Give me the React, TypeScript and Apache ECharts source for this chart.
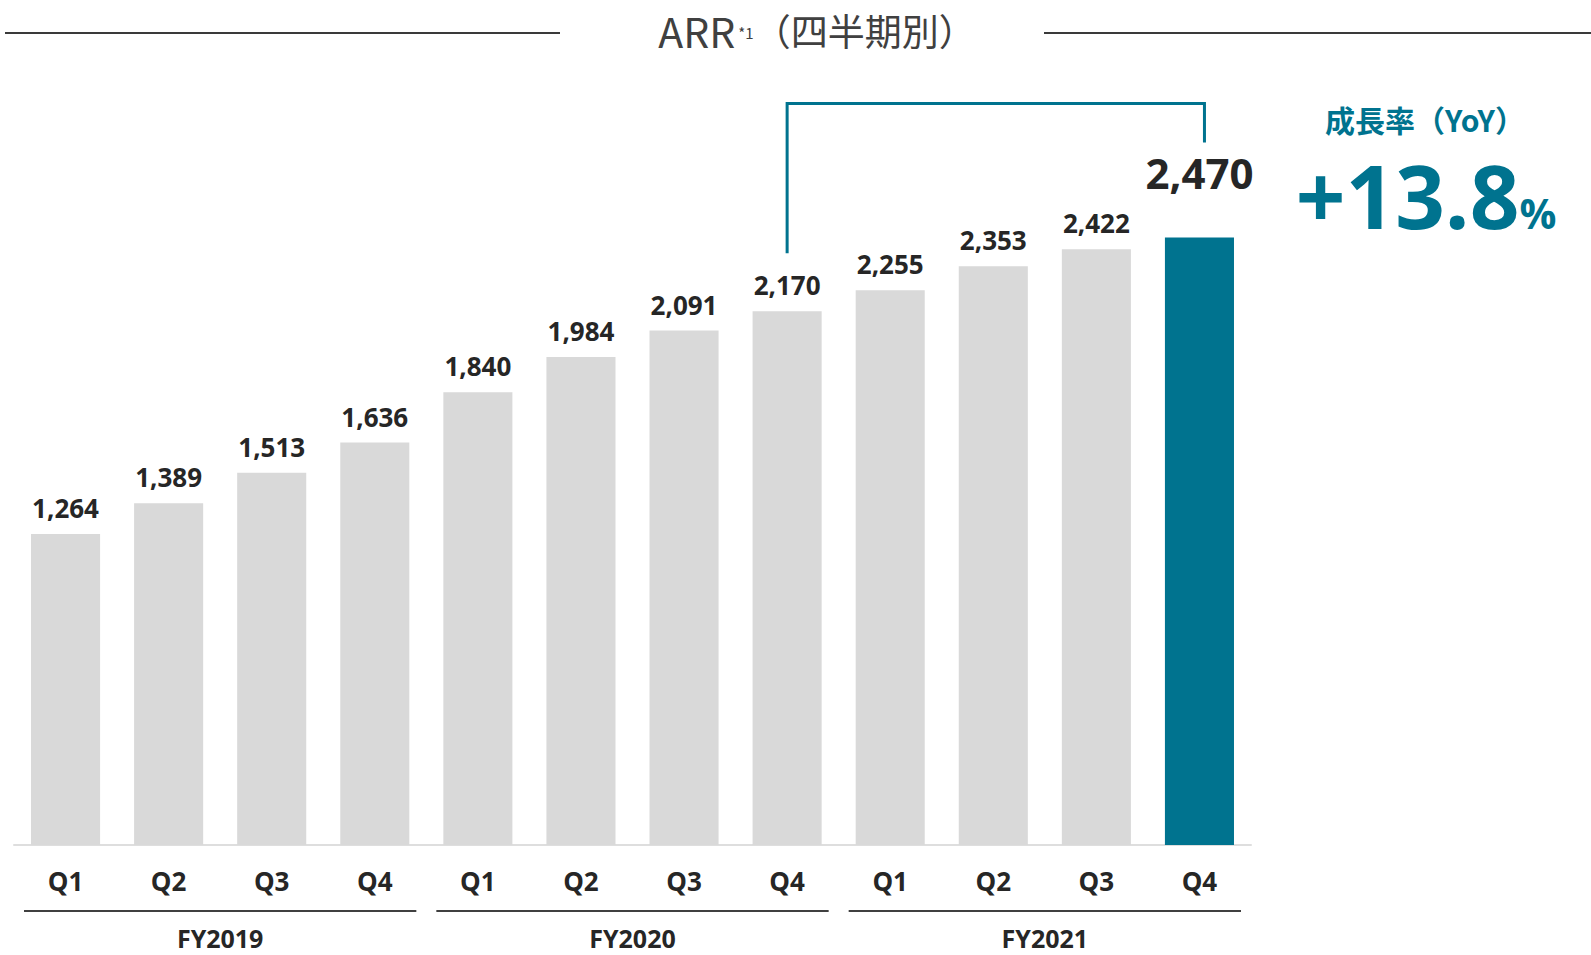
import React, { useEffect, useRef } from "react";
import * as echarts from "echarts";

const quarters = ["Q1", "Q2", "Q3", "Q4", "Q1", "Q2", "Q3", "Q4", "Q1", "Q2", "Q3", "Q4"];
const fiscalYears = ["FY2019", "FY2020", "FY2021"];
const arrValues = [1264, 1389, 1513, 1636, 1840, 1984, 2091, 2170, 2255, 2353, 2422, 2470];
const titleMain = "ARR";
const titleNote = "*1";
const titleSub = "（四半期別）";
const yoyLabel = "成長率（YoY）";
const yoyValue = "+13.8";
const yoyUnit = "%";

const TEAL = "#00738F";
const GREY = "#D9D9D9";
const DARK = "#262626";
const NUM_FONT = "'Open Sans', 'Noto Sans CJK JP', sans-serif";
const JP_FONT = "'Noto Sans CJK JP', 'Noto Sans', sans-serif";

export default function App() {
  const ref = useRef<HTMLDivElement>(null);

  useEffect(() => {
    document.body.style.margin = "0";
    const chart = echarts.init(ref.current!, undefined, { renderer: "svg" });
    const last = arrValues.length - 1;

    chart.setOption({
      animation: false,
      grid: { left: 14, right: 340, top: 107, bottom: 110 },
      xAxis: [
        {
          type: "category",
          data: quarters,
          axisLine: { lineStyle: { color: "#DEDEDE", width: 2 } },
          axisTick: { show: false },
          axisLabel: {
            color: DARK,
            fontFamily: NUM_FONT,
            fontWeight: "bold",
            fontSize: 26,
            lineHeight: 28,
            margin: 22,
          },
        },
        {
          type: "category",
          data: fiscalYears,
          position: "bottom",
          offset: 67,
          axisLine: { show: false },
          axisTick: { show: false },
          axisLabel: {
            color: DARK,
            fontFamily: NUM_FONT,
            fontWeight: "bold",
            fontSize: 25,
            lineHeight: 24,
            margin: 14,
          },
        },
      ],
      yAxis: { type: "value", min: 0, max: 3000, show: false, splitLine: { show: false } },
      series: [
        {
          type: "bar",
          xAxisIndex: 0,
          barCategoryGap: "33%",
          data: arrValues.map((v, i) =>
            i === last
              ? {
                  value: v,
                  itemStyle: { color: TEAL },
                  label: { fontSize: 42, lineHeight: 44, distance: 43 },
                }
              : { value: v }
          ),
          itemStyle: { color: GREY },
          label: {
            show: true,
            position: "top",
            distance: 12,
            color: DARK,
            fontFamily: NUM_FONT,
            fontWeight: "bold",
            fontSize: 26,
            lineHeight: 28,
            formatter: (p: any) => Number(p.value).toLocaleString("en-US"),
          },
        },
      ],
    });

    const px = (i: number, v: number) => chart.convertToPixel({ xAxisIndex: 0, yAxisIndex: 0 }, [i, v]) as number[];
    const step = px(1, 0)[0] - px(0, 0)[0];
    const baseY = px(0, 0)[1];

    const groupLines = fiscalYears.map((_, g) => {
      const x1 = px(g * 4, 0)[0] - step / 2 + 10;
      const x2 = px(g * 4 + 3, 0)[0] + step / 2 - 10;
      return {
        type: "line",
        shape: { x1, y1: baseY + 66, x2, y2: baseY + 66 },
        style: { stroke: "#404040", lineWidth: 2 },
      };
    });

    const pLeft = px(7, arrValues[7]);
    const pRight = px(last, arrValues[last]);

    chart.setOption({
      graphic: [
        {
          type: "line",
          shape: { x1: 5, y1: 33, x2: 560, y2: 33 },
          style: { stroke: "#3A3A3A", lineWidth: 2 },
        },
        {
          type: "line",
          shape: { x1: 1044, y1: 33, x2: 1591, y2: 33 },
          style: { stroke: "#3A3A3A", lineWidth: 2 },
        },
        {
          type: "text",
          x: 817,
          y: 30,
          style: {
            text: `{a|${titleMain}}{b|${titleNote}}{c|${titleSub}}`,
            align: "center",
            verticalAlign: "middle",
            fill: "#404040",
            rich: {
              a: { fontFamily: JP_FONT, fontSize: 41, lineHeight: 44, fill: "#404040" },
              b: { fontFamily: JP_FONT, fontSize: 15, lineHeight: 44, fill: "#404040", padding: [4, 0, 0, 3] },
              c: { fontFamily: JP_FONT, fontSize: 37, lineHeight: 44, fill: "#404040" },
            },
          },
        },
        {
          type: "polyline",
          shape: {
            points: [
              [pLeft[0], pLeft[1] - 58],
              [pLeft[0], 103.5],
              [pRight[0] + 5, 103.5],
              [pRight[0] + 5, pRight[1] - 95],
            ],
          },
          style: { stroke: TEAL, lineWidth: 3, fill: "none" },
        },
        {
          type: "text",
          x: 1425,
          y: 119,
          style: {
            text: yoyLabel,
            align: "center",
            verticalAlign: "middle",
            fill: TEAL,
            fontFamily: JP_FONT,
            fontWeight: "bold",
            fontSize: 30,
            lineHeight: 30,
          },
        },
        {
          type: "text",
          x: 1426,
          y: 195,
          style: {
            text: `{n|${yoyValue}}{u|${yoyUnit}}`,
            align: "center",
            verticalAlign: "middle",
            rich: {
              n: { fontFamily: NUM_FONT, fontWeight: "bold", fontSize: 87, lineHeight: 76, fill: TEAL },
              u: { fontFamily: NUM_FONT, fontWeight: "bold", fontSize: 41, lineHeight: 41, verticalAlign: "bottom", fill: TEAL },
            },
          },
        },
        ...groupLines,
      ],
    });

    return () => chart.dispose();
  }, []);

  return <div ref={ref} style={{ width: 1591, height: 955 }} />;
}
